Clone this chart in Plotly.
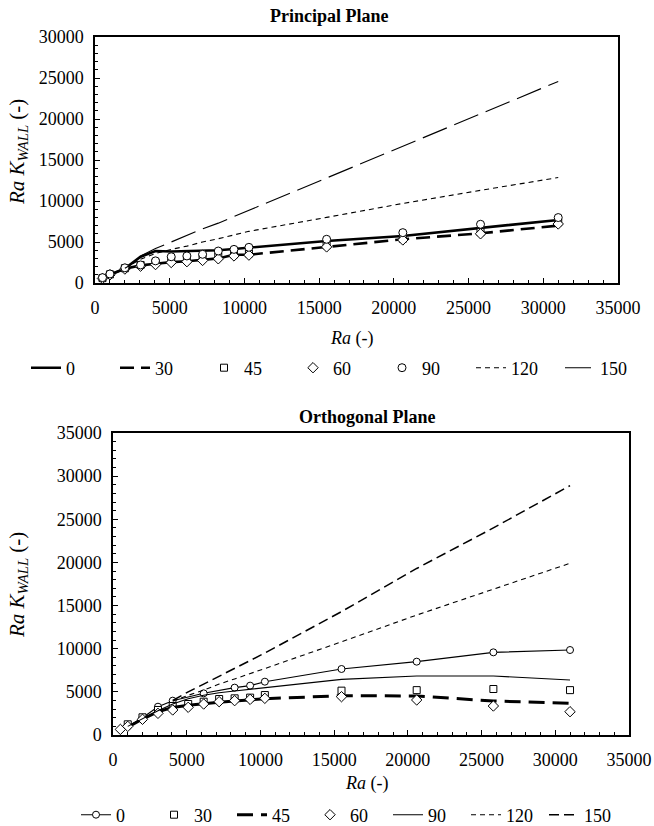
import plotly.graph_objects as go

# Rayleigh numbers shared by every series
RA = [500, 1000, 2000, 3050, 4050, 5100, 6150, 7200, 8250, 9300, 10300,
      15500, 20600, 25800, 31000]
LOW = 11  # first index of the widely spaced (high-Ra) points

# Principal plane, Ra*K_WALL per inclination angle
P0 = [600, 1000, 1750, 3200, 3900, 3850, 3900, 3950, 4000, 4150, 4300,
      5130, 5740, 6670, 7690]
P30 = [600, 1050, 1750, 2150, 2350, 2550, 2650, 2800, 3000, 3450, 3450,
       4430, 5330, 6060, 7000]
P45 = [600, 1050, 1800, 2200, 2500, 2800, 2900, 3100, 3250, 3500, 3600,
       4600, 5400, 6200, 7400]
P60 = [550, 1000, 1700, 2050, 2250, 2500, 2600, 2750, 2950, 3300, 3400,
       4400, 5250, 6000, 7200]
P90 = [650, 1100, 1850, 2200, 2700, 3200, 3300, 3500, 3900, 4100, 4350,
       5330, 6140, 7160, 7980]
P120 = [None, None, 1800, 2900, 3600, 4100, 4500, 5000, 5400, 5900, 6300,
        8000, 9700, 11300, 12860]
P150 = [None, None, None, 3300, 4200, 5000, 5800, 6600, 7300, 8100, 8800,
        12800, 16700, 20700, 24580]

# Orthogonal plane
O0 = [None, 1000, 2000, 3280, 3980, None, 4830, None, 5490, 5720, 6180,
      7650, 8500, 9580, 9850]
O30 = [None, 1240, 2050, 2900, 3360, 3590, 3860, 4170, 4250, 4330, 4630,
       5140, 5200, 5330, 5200]
O45 = [None, 900, 1850, 2700, 3200, 3450, 3650, 3800, 3950, 4050, 4200,
       4560, 4520, 3940, 3670]
O60 = [650, 1000, 1820, 2510, 2900, 3210, 3590, 3860, 3980, 4130, 4250,
       4440, 4060, 3360, 2700]
O90 = [None, 1000, 1900, 2800, 3600, 4200, 4600, 4900, 5100, 5300, 5500,
       6450, 6840, 6840, 6370]
O120 = [None, None, None, None, 3900, 4600, 5200, 5900, 6500, 7100, 7700,
        10800, 13900, 16900, 19900]
O150 = [None, None, None, None, 4000, 5000, 5900, 6800, 7700, 8600, 9500,
        14300, 19300, 24000, 28900]

X_TICKS = [0, 5000, 10000, 15000, 20000, 25000, 30000, 35000]

W, H = 654, 826
FONT = "Liberation Serif, Times New Roman, DejaVu Serif, serif"
BLACK = "#000000"


def px(x):
    return x / W


def py(y):
    return 1 - y / H


fig = go.Figure()


def line(x, y, name, xa, ya, width, dash="solid", legend="legend",
         show=True, marker=None, connect=False):
    fig.add_trace(go.Scatter(
        x=x, y=y, name=name, xaxis=xa, yaxis=ya,
        mode="lines+markers" if marker else "lines",
        line=dict(color=BLACK, width=width, dash=dash),
        marker=marker, connectgaps=connect,
        legend=legend, showlegend=show))


def points(x, y, name, xa, ya, symbol, size, legend="legend"):
    fig.add_trace(go.Scatter(
        x=x, y=y, name=name, xaxis=xa, yaxis=ya, mode="markers",
        marker=dict(symbol=symbol, size=size, color="white",
                    line=dict(color=BLACK, width=1)),
        legend=legend))


# ---- Principal plane ----
line(RA, P0, "0", "x", "y", 2.6)
line(RA[:LOW], P30[:LOW], "30", "x", "y", 2.6, show=False)
line(RA[LOW - 1:], P30[LOW - 1:], "30", "x", "y", 2.6, dash="14px,7px")
points(RA, P45, "45", "x", "y", "square", 7)
points(RA, P60, "60", "x", "y", "diamond", 8)
points(RA, P90, "90", "x", "y", "circle", 8)
line(RA, P120, "120", "x", "y", 1.1, dash="5px,4px")
line(RA, P150, "150", "x", "y", 1.1, dash="26px,8px")

# ---- Orthogonal plane ----
circ = dict(symbol="circle", size=7, color="white",
            line=dict(color=BLACK, width=1))
line(RA, O0, "0", "x2", "y2", 1.1, legend="legend2", marker=circ,
     connect=True)
points(RA, O30, "30", "x2", "y2", "square", 7, legend="legend2")
line(RA[:LOW], O45[:LOW], "45", "x2", "y2", 3, legend="legend2", show=False)
line(RA[LOW - 1:], O45[LOW - 1:], "45", "x2", "y2", 3, dash="16px,8px",
     legend="legend2")
points(RA, O60, "60", "x2", "y2", "diamond", 8, legend="legend2")
line(RA, O90, "90", "x2", "y2", 1.1, legend="legend2")
line(RA, O120, "120", "x2", "y2", 1.1, dash="5px,4px", legend="legend2")
line(RA, O150, "150", "x2", "y2", 1.5, dash="10px,5px", legend="legend2")

tickfont = dict(family=FONT, size=18, color=BLACK)


def xaxis(domain, anchor):
    return dict(domain=domain, anchor=anchor, range=[0, 35000],
                tickvals=X_TICKS, tickformat="d", tickfont=tickfont,
                ticks="inside", ticklen=5, tickcolor=BLACK,
                minor=dict(ticks="inside", dtick=1000, ticklen=3,
                           tickcolor=BLACK),
                showgrid=False, zeroline=False, showline=True,
                linecolor=BLACK, linewidth=1.5, mirror=True,
                ticklabelstandoff=8)


def yaxis(domain, anchor, top):
    return dict(domain=domain, anchor=anchor, range=[0, top], dtick=5000,
                tickformat="d", tickfont=tickfont,
                ticks="inside", ticklen=5, tickcolor=BLACK,
                minor=dict(ticks="inside", dtick=1000, ticklen=3,
                           tickcolor=BLACK),
                showgrid=False, zeroline=False, showline=True,
                linecolor=BLACK, linewidth=1.5, mirror=True,
                ticklabelstandoff=6)


ytitle = "<i>Ra K</i><sub><i>WALL</i></sub> (-)"
xtitle = "<i>Ra</i> (-)"
ann = []
for text, x, y, size, angle in [
    ("<b>Principal Plane</b>", 329, 16, 18, 0),
    ("<b>Orthogonal Plane</b>", 367, 417, 18, 0),
    (ytitle, 18, 152, 21, -90),
    (ytitle, 18, 585, 21, -90),
    (xtitle, 351, 338, 18, 0),
    (xtitle, 366, 783, 18, 0),
]:
    ann.append(dict(text=text, x=px(x), y=py(y), xref="paper", yref="paper",
                    xanchor="center", yanchor="middle", showarrow=False,
                    textangle=angle,
                    font=dict(family=FONT, size=size, color=BLACK)))

legfont = dict(family=FONT, size=18, color=BLACK)

fig.update_layout(
    width=W, height=H, autosize=False,
    margin=dict(l=0, r=0, t=0, b=0, autoexpand=False),
    paper_bgcolor="white", plot_bgcolor="white",
    font=dict(family=FONT, color=BLACK),
    xaxis=xaxis([px(95), px(618)], "y"),
    yaxis=yaxis([py(283), py(37)], "x", 30000),
    xaxis2=xaxis([px(113), px(629)], "y2"),
    yaxis2=yaxis([py(735), py(433)], "x2", 35000),
    legend=dict(orientation="h", x=px(26), y=py(368), xanchor="left",
                yanchor="middle", font=legfont, entrywidth=44,
                entrywidthmode="pixels", itemwidth=30,
                bgcolor="rgba(0,0,0,0)", tracegroupgap=0),
    legend2=dict(orientation="h", x=px(76), y=py(815), xanchor="left",
                 yanchor="middle", font=legfont, entrywidth=33,
                 entrywidthmode="pixels", itemwidth=30,
                 bgcolor="rgba(0,0,0,0)", tracegroupgap=0),
    annotations=ann,
    showlegend=True,
)

fig.write_html("out.html")
